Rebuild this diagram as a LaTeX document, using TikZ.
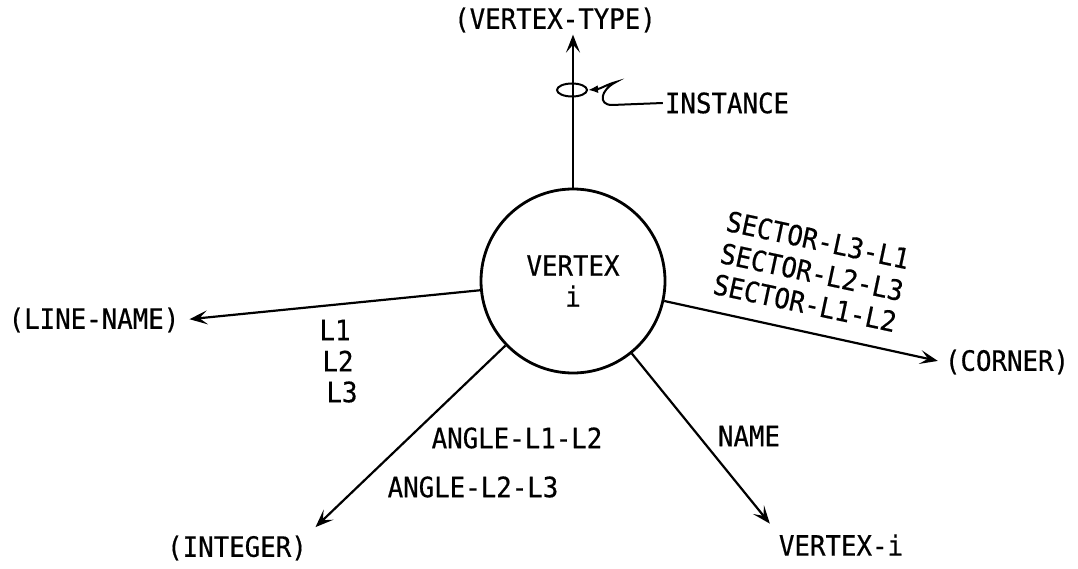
\documentclass[tikz,border=0pt]{standalone}
\usepackage{fontspec}
\setmainfont{DejaVu Sans Mono}[FakeStretch=0.92,FakeBold=0.5]
\usetikzlibrary{arrows.meta,shapes.geometric}

\begin{document}
\begin{tikzpicture}[x=1pt,y=-1pt,
  vertex/.style={draw, circle, line width=2.8pt, minimum size=184pt, align=center, font=\fontsize{28}{31}\selectfont},
  entity/.style={font=\fontsize{28}{31}\selectfont, inner sep=2pt},
  tag/.style={font=\fontsize{28}{31}\selectfont, inner sep=0pt},
  link/.style={line width=2.2pt, -{Stealth[length=18pt,width=14pt,inset=8pt]}}
]
  \useasboundingbox (0,0) rectangle (1078,569);

  \node[vertex] (vtx) at (573,281) {VERTEX\\i};

  \node[entity] (vtype) at (555,20) {(VERTEX-TYPE)};
  \node[entity] (lname) at (94,320) {(LINE-NAME)};
  \node[entity] (corner) at (1007,362) {(CORNER)};
  \node[entity] (integer) at (237,548) {(INTEGER)};
  \node[entity] (vtxi) at (841,545) {VERTEX-i};
  \node[entity] (inst) at (727,103) {INSTANCE};

  % instance marker on the type link
  \node[draw, ellipse, line width=2pt, minimum width=30pt, minimum height=13pt, inner sep=0pt] (ring) at (572,90) {};

  \draw[link] (vtx.north) -- (vtx.north |- vtype.south);
  \draw[link] (vtx) -- (lname.east) [shorten >=8pt];
  \draw[link] (vtx) -- (corner.west) [shorten >=5pt];
  \draw[link] (vtx) -- (integer.north east) [shorten >=9pt];
  \draw[link] (vtx) -- (vtxi.north west) [shorten >=11pt];

  \draw[line width=2pt, -{Latex[length=10pt,width=8pt]}] (inst.west) -- (612,105)
    .. controls (598,105) and (600,90) .. (616,82)
    .. controls (608,84) and (600,89) .. (ring.east);

  % role labels
  \node[tag] (l1) at (335,330) {L1};
  \node[tag] (l2) at (338,361) {L2};
  \node[tag] (l3) at (342,392) {L3};

  \node[tag, rotate=-12] (s31) at (818,240) {SECTOR-L3-L1};
  \node[tag, rotate=-12] (s23) at (812,272) {SECTOR-L2-L3};
  \node[tag, rotate=-12] (s12) at (805,303) {SECTOR-L1-L2};

  \node[tag] (a12) at (517,438) {ANGLE-L1-L2};
  \node[tag] (a23) at (473,487) {ANGLE-L2-L3};
  \node[tag] (nm) at (749,436) {NAME};

\end{tikzpicture}
\end{document}
